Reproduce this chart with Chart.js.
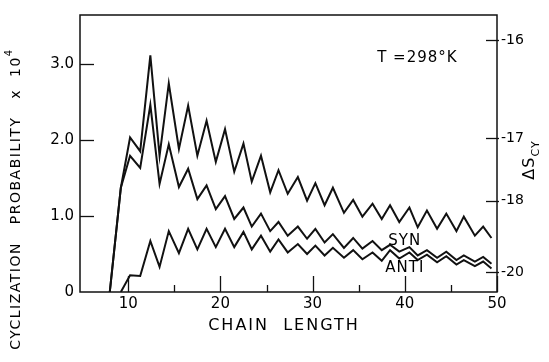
<!DOCTYPE html>
<html>
<head>
<meta charset="utf-8">
<script src="https://cdn.jsdelivr.net/npm/chart.js@4.4.1/dist/chart.umd.min.js"></script>
<style>
  html, body { margin: 0; padding: 0; background: #fff; }
  #wrap { width: 549px; height: 362px; }
</style>
</head>
<body>
<div id="wrap"><canvas id="chart" width="549" height="362"></canvas></div>
<script>
// chain length positions as drawn
const chainLength = [8.0, 9.2, 10.2, 11.3, 12.4, 13.4, 14.4, 15.5, 16.5, 17.5,
  18.5, 19.5, 20.5, 21.5, 22.5, 23.4, 24.4, 25.4, 26.3, 27.3,
  28.4, 29.4, 30.3, 31.3, 32.2, 33.4, 34.4, 35.4, 36.5, 37.5,
  38.4, 39.4, 40.5, 41.4, 42.4, 43.5, 44.5, 45.6, 46.4, 47.6,
  48.5, 49.4];

// cyclization probability x 10^4
const totalProb = [0, 1.37, 2.03, 1.85, 3.11, 1.79, 2.74, 1.88, 2.45, 1.79,
  2.25, 1.71, 2.14, 1.58, 1.95, 1.45, 1.79, 1.31, 1.60, 1.29,
  1.51, 1.20, 1.43, 1.14, 1.37, 1.04, 1.21, 0.99, 1.16, 0.96,
  1.14, 0.92, 1.11, 0.85, 1.07, 0.83, 1.03, 0.80, 0.99, 0.74,
  0.86, 0.71];

const synProb = [0, 1.37, 1.79, 1.63, 2.46, 1.42, 1.94, 1.38, 1.62, 1.22,
  1.40, 1.09, 1.26, 0.96, 1.11, 0.86, 1.03, 0.80, 0.92, 0.74,
  0.86, 0.70, 0.83, 0.65, 0.76, 0.58, 0.71, 0.57, 0.67, 0.55,
  0.62, 0.53, 0.59, 0.48, 0.55, 0.45, 0.53, 0.42, 0.48, 0.40,
  0.46, 0.37];

const antiProb = [null, 0, 0.22, 0.21, 0.67, 0.33, 0.80, 0.51, 0.83, 0.56,
  0.83, 0.59, 0.83, 0.59, 0.79, 0.56, 0.74, 0.53, 0.69, 0.52,
  0.63, 0.50, 0.61, 0.48, 0.58, 0.45, 0.55, 0.43, 0.52, 0.41,
  0.55, 0.44, 0.52, 0.42, 0.49, 0.39, 0.47, 0.36, 0.42, 0.34,
  0.40, 0.31];

const xTicks = [10, 15, 20, 25, 30, 35, 40, 45, 50];
const yTicks = [0, 1, 2, 3];
const yTickLabels = ['0', '1.0', '2.0', '3.0'];
// right axis: entropy ticks, placed at their height on the probability scale
const entropyTickAt = [3.31, 2.02, 1.20, 0.26];
const entropyTickLabels = ['-16', '-17', '-18', '-20'];

const FONT = "'DejaVu Sans', sans-serif";
Chart.defaults.font.family = FONT;
Chart.defaults.color = '#000';

function pairs(ys) {
  return chainLength.map((x, i) => ({ x: x, y: ys[i] }));
}

function line(label, ys) {
  return {
    label: label,
    data: pairs(ys),
    borderColor: '#111',
    borderWidth: 2,
    pointRadius: 0,
    tension: 0,
    fill: false,
    spanGaps: false
  };
}

const decorations = {
  id: 'decorations',
  afterDatasetsDraw(chart) {
    const ctx = chart.ctx;
    const a = chart.chartArea;
    const sx = chart.scales.x, sy = chart.scales.y, sy2 = chart.scales.y2;
    ctx.save();
    ctx.strokeStyle = '#111';
    ctx.fillStyle = '#000';

    // frame
    ctx.lineWidth = 1.5;
    ctx.strokeRect(a.left, a.top, a.right - a.left, a.bottom - a.top);

    // x ticks (inward)
    ctx.lineWidth = 1.3;
    xTicks.forEach(v => {
      const px = Math.round(sx.getPixelForValue(v)) + 0.5;
      const len = v % 10 === 0 ? 16 : 7;
      ctx.beginPath();
      ctx.moveTo(px, a.bottom);
      ctx.lineTo(px, a.bottom - len);
      ctx.stroke();
    });
    // left y ticks
    yTicks.slice(1).forEach(v => {
      const py = Math.round(sy.getPixelForValue(v)) + 0.5;
      ctx.beginPath();
      ctx.moveTo(a.left, py);
      ctx.lineTo(a.left + 14, py);
      ctx.stroke();
    });
    // right ticks
    entropyTickAt.forEach(v => {
      const py = Math.round(sy2.getPixelForValue(v)) + 0.5;
      ctx.beginPath();
      ctx.moveTo(a.right - 11, py);
      ctx.lineTo(a.right + 2, py);
      ctx.stroke();
    });

    // x title
    ctx.font = '16px ' + FONT;
    ctx.letterSpacing = '2px';
    ctx.textAlign = 'center';
    ctx.textBaseline = 'middle';
    ctx.fillText('CHAIN  LENGTH', 284, 326);

    // y title, rotated
    ctx.save();
    ctx.translate(16, 198);
    ctx.rotate(-Math.PI / 2);
    ctx.font = '14px ' + FONT;
    ctx.letterSpacing = '1.5px';
    const main = 'CYCLIZATION   PROBABILITY   x  10';
    const w = ctx.measureText(main).width;
    ctx.textAlign = 'left';
    ctx.fillText(main, -w / 2 - 5, 0);
    ctx.font = '10px ' + FONT;
    ctx.fillText('4', -w / 2 - 5 + w, -7);
    ctx.restore();

    // right title: ΔS with CY subscript
    ctx.save();
    ctx.translate(530, 160);
    ctx.rotate(-Math.PI / 2);
    ctx.letterSpacing = '1px';
    ctx.textAlign = 'left';
    ctx.font = '16px ' + FONT;
    const ds = 'ΔS';
    const wd = ctx.measureText(ds).width;
    ctx.font = '11px ' + FONT;
    const wc = ctx.measureText('CY').width;
    const start = -(wd + wc) / 2;
    ctx.font = '16px ' + FONT;
    ctx.fillText(ds, start, 0);
    ctx.font = '11px ' + FONT;
    ctx.fillText('CY', start + wd, 6);
    ctx.restore();

    // annotations
    ctx.letterSpacing = '1px';
    ctx.font = '15px ' + FONT;
    ctx.textAlign = 'left';
    ctx.fillText('T =298\u00B0K', sx.getPixelForValue(37.0), sy.getPixelForValue(3.08));
    ctx.textAlign = 'center';
    ctx.fillText('SYN', sx.getPixelForValue(40.0), sy.getPixelForValue(0.665));
    ctx.fillText('ANTI', sx.getPixelForValue(40.0), sy.getPixelForValue(0.31));
    ctx.restore();
  }
};

new Chart(document.getElementById('chart'), {
  type: 'line',
  data: {
    datasets: [
      line('Total', totalProb),
      line('SYN', synProb),
      line('ANTI', antiProb)
    ]
  },
  options: {
    responsive: false,
    animation: false,
    devicePixelRatio: 1,
    layout: { padding: { top: 13, left: 0, right: 0, bottom: 0 } },
    plugins: {
      legend: { display: false },
      tooltip: { enabled: false },
      title: { display: false }
    },
    scales: {
      x: {
        type: 'linear',
        min: 4.77,
        max: 50,
        afterBuildTicks: s => { s.ticks = xTicks.map(v => ({ value: v })); },
        afterFit: s => { s.height = 70; },
        grid: { display: false, drawTicks: false },
        border: { display: false },
        ticks: {
          autoSkip: false,
          maxRotation: 0,
          padding: 3,
          font: { size: 15 },
          callback: v => (v % 10 === 0 ? String(v) : '')
        }
      },
      y: {
        position: 'left',
        min: 0,
        max: 3.64,
        afterBuildTicks: s => { s.ticks = yTicks.map(v => ({ value: v })); },
        afterFit: s => { s.width = 80; },
        grid: { display: false, drawTicks: false },
        border: { display: false },
        ticks: {
          padding: 6,
          font: { size: 15 },
          callback: (v, i) => yTickLabels[i]
        }
      },
      y2: {
        position: 'right',
        min: 0,
        max: 3.64,
        afterBuildTicks: s => { s.ticks = entropyTickAt.map(v => ({ value: v })); },
        afterFit: s => { s.width = 52; },
        grid: { display: false, drawTicks: false },
        border: { display: false },
        ticks: {
          padding: 4,
          font: { size: 14 },
          callback: (v, i) => entropyTickLabels[i]
        }
      }
    }
  },
  plugins: [decorations]
});
</script>
</body>
</html>
